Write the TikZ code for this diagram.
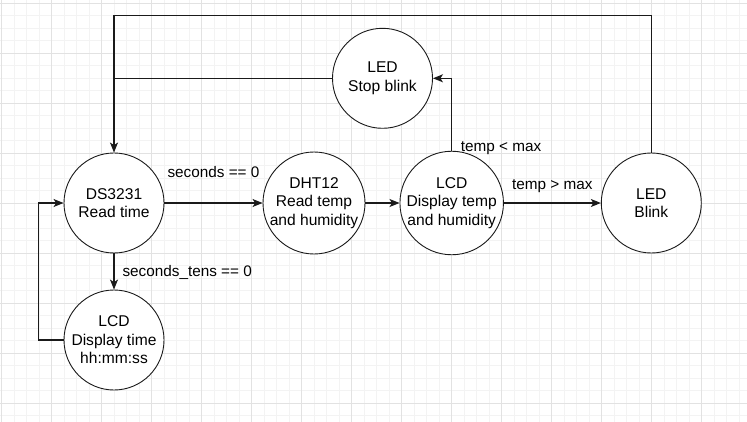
\documentclass[tikz,border=0pt]{standalone}
\usepackage{fontspec}
\setmainfont{Liberation Sans}
\usetikzlibrary{arrows.meta}
\definecolor{minorgrid}{HTML}{F3F3F3}
\definecolor{majorgrid}{HTML}{E2E2E2}
\definecolor{edgecol}{HTML}{1A1A1A}
\tikzset{
  state/.style={circle, draw=edgecol, line width=0.9pt, fill=white, minimum size=100pt, inner sep=0pt,
    align=center, font=\fontsize{15.6}{18.4}\selectfont},
  conn/.style={draw=edgecol, line width=1.1pt},
  arr/.style={conn, -{Stealth[length=10pt,width=8pt,inset=2.5pt]}},
  lbl/.style={font=\fontsize{15.3}{18}\selectfont, inner sep=0pt},
}
\begin{document}
\begin{tikzpicture}[x=1pt,y=-1pt]
\useasboundingbox (0,0) rectangle (747,422);
\fill[white] (0,0) rectangle (747,422);
% grid
\foreach \i in {0,...,59}{
  \pgfmathsetmacro{\xx}{1.7+12.5*\i}
  \draw[minorgrid, line width=0.8pt] (\xx,0) -- (\xx,422);
}
\foreach \j in {0,...,33}{
  \pgfmathsetmacro{\yy}{3.3+12.5*\j}
  \draw[minorgrid, line width=0.8pt] (0,\yy) -- (747,\yy);
}
\foreach \i in {0,...,14}{
  \pgfmathsetmacro{\xx}{1.7+50*\i}
  \draw[majorgrid, line width=1pt] (\xx,0) -- (\xx,422);
}
\foreach \j in {0,...,8}{
  \pgfmathsetmacro{\yy}{3.3+50*\j}
  \draw[majorgrid, line width=1pt] (0,\yy) -- (747,\yy);
}
% nodes
\node[state] (ds) at (114,203) {DS3231\\Read time};
\node[state] (lcdt) at (114,340) {LCD\\Display time\\hh:mm:ss};
\node[state] (dht) at (314,203) {DHT12\\Read temp\\and humidity};
\node[state] (lcdh) at (451.7,203) {LCD\\Display temp\\and humidity};
\node[state] (blink) at (651.3,203) {LED\\Blink};
\node[state] (stop) at (382.5,78.3) {LED\\Stop blink};
% helper coordinates
\coordinate (tr) at (651.3,15.7);
\coordinate (tl) at (114,15.7);
\coordinate (lb) at (38.5,340);
\coordinate (lt) at (38.5,203);
% connectors
\draw[arr] (blink.north) -- (tr) -- (tl) -- (ds.north);
\draw[conn] (stop.west) -- (stop.west -| ds.north);
\draw[arr] (lcdh.north) |- (stop.east);
\draw[arr] (ds.east) -- node[lbl, midway, anchor=base, yshift=25pt] {seconds == 0} (dht.west);
\draw[arr] (dht.east) -- (lcdh.west);
\draw[arr] (lcdh.east) -- node[lbl, midway, anchor=base, yshift=13pt] {temp > max} (blink.west);
\draw[arr] (ds.south) -- node[lbl, midway, anchor=base west, xshift=8pt, yshift=-5.2pt] {seconds\_tens == 0} (lcdt.north);
\draw[arr] (lcdt.west) -- (lb) -- (lt) -- (ds.west);
\node[lbl, anchor=base west] (tlm) at (460.7,151.7) {temp < max};
\end{tikzpicture}
\end{document}
